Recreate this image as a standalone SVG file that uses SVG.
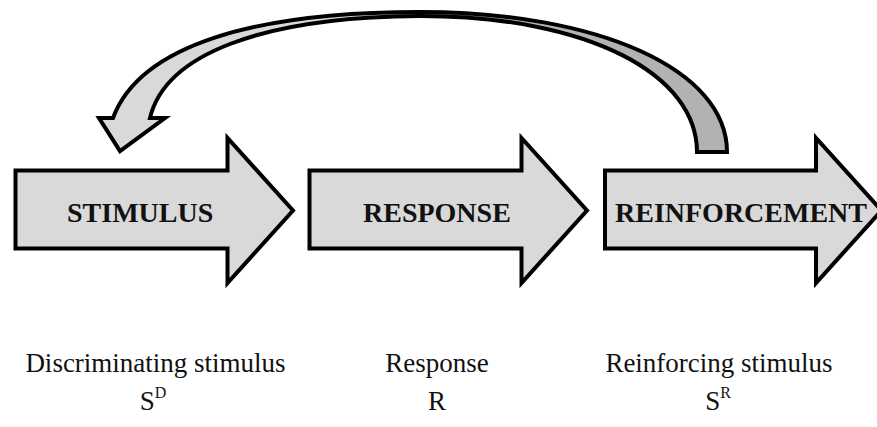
<svg xmlns="http://www.w3.org/2000/svg" width="877" height="427" viewBox="0 0 877 427">
  <style>
    .block { fill: #d9d9d9; stroke: #000; stroke-width: 4; stroke-linejoin: miter; stroke-miterlimit: 10; }
    .title { font-family: "Liberation Serif", "Times New Roman", serif; font-weight: bold; font-size: 28px; fill: #111; }
    .label { font-family: "Liberation Serif", "Times New Roman", serif; font-size: 27px; fill: #111; }
    .sup { font-size: 16px; }
    .band-front { fill: #d9d9d9; }
    .band-back { fill: #b2b2b2; }
    .outline { fill: none; stroke: #000; stroke-width: 4; stroke-linejoin: miter; }
  </style>
  <defs>
    <path id="shape-reinforcement" d="M605,170.5 H816 V138 L881.5,210.5 L816,283 V248.5 H605 Z"/>
    <clipPath id="clip-reinforcement">
      <use href="#shape-reinforcement"/>
    </clipPath>
  </defs>

  <rect width="877" height="427" fill="#fff"/>

  <!-- feedback arrow: reinforcement back to stimulus -->
  <g id="connectors">
    <path class="band-front" d="M99,118 L113,118 C140,45 255,12 420,12 L420,16 C260,17 165,55 150,118 L165,118 L120,151 Z"/>
    <path class="band-back" d="M420,12 C600,12 727,70 727,152 L697,152 C697,75 590,16 420,16 Z"/>
    <path class="outline" d="M99,118 L113,118 C140,45 255,12 420,12 C600,12 727,70 727,152 L697,152 C697,75 590,16 420,16 C260,17 165,55 150,118 L165,118 L120,151 Z"/>
  </g>

  <g id="stimulus">
    <path class="block" d="M15.5,170.5 H227.5 V138 L293,210.5 L227.5,283 V248.5 H15.5 Z"/>
    <text class="title" x="67" y="222">STIMULUS</text>
  </g>

  <g id="response">
    <path class="block" d="M309.5,170.5 H521.5 V138 L587,210.5 L521.5,283 V248.5 H309.5 Z"/>
    <text class="title" x="363" y="222">RESPONSE</text>
  </g>

  <g id="reinforcement">
    <use href="#shape-reinforcement" fill="#d9d9d9"/>
    <text class="title" x="615" y="222" clip-path="url(#clip-reinforcement)">REINFORCEMENT</text>
    <use href="#shape-reinforcement" fill="none" stroke="#000" stroke-width="4" stroke-miterlimit="10"/>
  </g>

  <g id="labels">
    <text class="label" x="155.5" y="372" text-anchor="middle">Discriminating stimulus</text>
    <text class="label" x="437" y="372" text-anchor="middle">Response</text>
    <text class="label" x="719" y="372" text-anchor="middle">Reinforcing stimulus</text>
    <text class="label" x="153" y="410" text-anchor="middle">S<tspan class="sup" dy="-12">D</tspan></text>
    <text class="label" x="437" y="410" text-anchor="middle">R</text>
    <text class="label" x="718" y="410" text-anchor="middle">S<tspan class="sup" dy="-12">R</tspan></text>
  </g>
</svg>
